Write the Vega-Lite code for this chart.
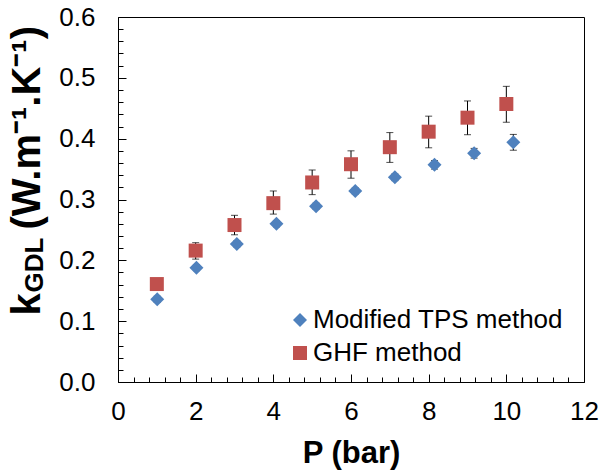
{
  "$schema": "https://vega.github.io/schema/vega-lite/v6.json",
  "width": 466,
  "height": 365,
  "autosize": "none",
  "padding": {"left": 118, "top": 17, "right": 16, "bottom": 94},
  "background": "white",
  "config": {"view": {"stroke": "black", "strokeWidth": 1}, "font": "Liberation Sans"},
  "data": {"values": [
    {"series": "Modified TPS method", "P": 1.01, "k": 0.136, "lo": 0.131, "hi": 0.141},
    {"series": "Modified TPS method", "P": 2.02, "k": 0.188, "lo": 0.183, "hi": 0.193},
    {"series": "Modified TPS method", "P": 3.06, "k": 0.227, "lo": 0.222, "hi": 0.232},
    {"series": "Modified TPS method", "P": 4.08, "k": 0.260, "lo": 0.255, "hi": 0.265},
    {"series": "Modified TPS method", "P": 5.10, "k": 0.289, "lo": 0.284, "hi": 0.294},
    {"series": "Modified TPS method", "P": 6.11, "k": 0.314, "lo": 0.309, "hi": 0.319},
    {"series": "Modified TPS method", "P": 7.13, "k": 0.3365, "lo": 0.331, "hi": 0.342},
    {"series": "Modified TPS method", "P": 8.15, "k": 0.357, "lo": 0.350, "hi": 0.364},
    {"series": "Modified TPS method", "P": 9.17, "k": 0.376, "lo": 0.368, "hi": 0.384},
    {"series": "Modified TPS method", "P": 10.18, "k": 0.394, "lo": 0.381, "hi": 0.407},
    {"series": "GHF method", "P": 1, "k": 0.161, "lo": 0.155, "hi": 0.167},
    {"series": "GHF method", "P": 2, "k": 0.216, "lo": 0.202, "hi": 0.229},
    {"series": "GHF method", "P": 3, "k": 0.258, "lo": 0.242, "hi": 0.274},
    {"series": "GHF method", "P": 4, "k": 0.294, "lo": 0.276, "hi": 0.314},
    {"series": "GHF method", "P": 5, "k": 0.328, "lo": 0.308, "hi": 0.3485},
    {"series": "GHF method", "P": 6, "k": 0.358, "lo": 0.335, "hi": 0.380},
    {"series": "GHF method", "P": 7, "k": 0.386, "lo": 0.361, "hi": 0.410},
    {"series": "GHF method", "P": 8, "k": 0.4115, "lo": 0.385, "hi": 0.437},
    {"series": "GHF method", "P": 9, "k": 0.4345, "lo": 0.4065, "hi": 0.462},
    {"series": "GHF method", "P": 10, "k": 0.457, "lo": 0.427, "hi": 0.486}
  ]},
  "encoding": {
    "x": {"field": "P", "type": "quantitative",
      "scale": {"domain": [0, 12], "nice": false, "zero": false},
      "axis": {
        "values": [0,0.4,0.8,1.2,1.6,2,2.4,2.8,3.2,3.6,4,4.4,4.8,5.2,5.6,6,6.4,6.8,7.2,7.6,8,8.4,8.8,9.2,9.6,10,10.4,10.8,11.2,11.6,12],
        "labelExpr": "abs(datum.value/2 - round(datum.value/2)) < 1e-6 ? format(datum.value, 'd') : ''",
        "tickSize": {"condition": {"test": "abs(datum.value/2 - round(datum.value/2)) < 1e-6", "value": -8}, "value": -5},
        "tickColor": "black", "tickWidth": 1,
        "domainColor": "black", "domainWidth": 1,
        "grid": false,
        "labelFont": "Liberation Sans", "labelFontSize": 26, "labelColor": "black",
        "labelPadding": 24, "labelFlush": false, "labelOverlap": false, "labelBound": false,
        "title": "P (bar)", "titleFont": "Liberation Sans", "titleFontSize": 31, "titleFontWeight": "bold", "titleColor": "black",
        "titleBaseline": "alphabetic", "titleY": 80, "titleX": 233
      }
    }
  },
  "layer": [
    {
      "mark": {"type": "rule", "color": "black", "strokeWidth": 1},
      "encoding": {
        "y": {"field": "lo", "type": "quantitative",
          "scale": {"domain": [0, 0.6], "nice": false, "zero": false},
          "axis": {
            "orient": "left",
            "values": [0,0.02,0.04,0.06,0.08,0.1,0.12,0.14,0.16,0.18,0.2,0.22,0.24,0.26,0.28,0.3,0.32,0.34,0.36,0.38,0.4,0.42,0.44,0.46,0.48,0.5,0.52,0.54,0.56,0.58,0.6],
            "labelExpr": "abs(datum.value*10 - round(datum.value*10)) < 1e-6 ? format(datum.value, '.1f') : ''",
            "tickSize": {"condition": {"test": "abs(datum.value*10 - round(datum.value*10)) < 1e-6", "value": -8}, "value": -5},
            "tickColor": "black", "tickWidth": 1,
            "domainColor": "black", "domainWidth": 1,
            "grid": false,
            "labelFont": "Liberation Sans", "labelFontSize": 26, "labelColor": "black",
            "labelPadding": 31, "labelOverlap": false, "labelBound": false, "labelFlush": false,
            "title": "k", "titleFont": "Liberation Sans", "titleFontSize": 40, "titleFontWeight": "bold", "titleColor": "black",
            "titleAngle": 270, "titleAlign": "left", "titleBaseline": "alphabetic",
            "titleX": -79, "titleY": 298
          }
        },
        "y2": {"field": "hi"}
      }
    },
    {
      "mark": {"type": "tick", "orient": "horizontal", "size": 7, "thickness": 1, "color": "black"},
      "encoding": {
        "y": {"field": "lo", "type": "quantitative",
          "axis": {
            "orient": "left", "labels": false, "ticks": false, "domain": false, "grid": false,
            "title": "GDL", "titleFont": "Liberation Sans", "titleFontSize": 26, "titleFontWeight": "bold", "titleColor": "black",
            "titleAngle": 270, "titleAlign": "left", "titleBaseline": "alphabetic",
            "titleX": -76, "titleY": 275
          }
        }
      }
    },
    {
      "mark": {"type": "tick", "orient": "horizontal", "size": 7, "thickness": 1, "color": "black"},
      "encoding": {
        "y": {"field": "hi", "type": "quantitative",
          "axis": {
            "orient": "left", "labels": false, "ticks": false, "domain": false, "grid": false,
            "title": "(W.m⁻¹.K⁻¹)", "titleFont": "Liberation Sans", "titleFontSize": 40, "titleFontWeight": "bold", "titleColor": "black",
            "titleAngle": 270, "titleAlign": "left", "titleBaseline": "alphabetic",
            "titleX": -79, "titleY": 212
          }
        }
      }
    },
    {
      "mark": {"type": "point", "filled": true, "opacity": 1, "size": 196, "strokeWidth": 0},
      "encoding": {
        "y": {"field": "k", "type": "quantitative", "axis": null},
        "color": {"field": "series", "type": "nominal",
          "scale": {"domain": ["Modified TPS method", "GHF method"], "range": ["#4F81BD", "#C0504D"]},
          "legend": {
            "orient": "none", "legendX": 169, "legendY": 290, "title": null, "padding": 0,
            "symbolSize": 196, "symbolStrokeWidth": 0,
            "labelFont": "Liberation Sans", "labelFontSize": 26, "labelColor": "black", "labelLimit": 400,
            "labelOffset": 0, "rowPadding": 7
          }
        },
        "shape": {"field": "series", "type": "nominal",
          "scale": {"domain": ["Modified TPS method", "GHF method"], "range": ["diamond", "square"]}
        }
      }
    }
  ],
  "resolve": {"axis": {"y": "independent"}}
}
